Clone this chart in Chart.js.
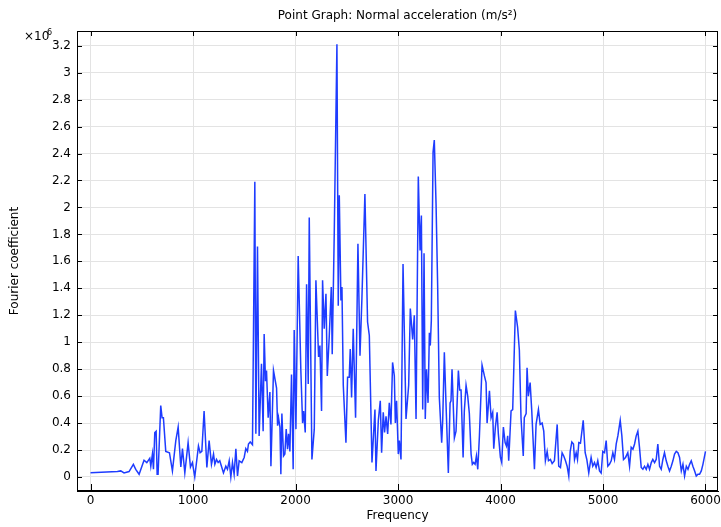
<!doctype HTML>
<html lang="en">
<head>
    <meta charset=utf-8>
    <title>Point Graph</title>
    <style type="text/css">
        * {
            padding: 0;
            margin: 0;
        }

        body {
            background: #fff;
        }

        div {
            width: 721px;
            height: 527px;
        }
    </style>
    <script src="https://cdn.jsdelivr.net/npm/chart.js"></script>
</head>
<body>
    <div>
        <canvas id="pointGraph"></canvas>
    </div>

    <script type="text/javascript">
        // frequency (Hz) and Fourier coefficient (x10^6)
        const frequency = [
            0, 262, 295, 327, 376, 418, 441, 474, 522, 549, 578, 588, 604, 614, 627, 640, 650, 659, 685, 698,
            711, 734, 770, 799, 832, 855, 881, 897, 920, 952, 975, 994, 1017, 1053, 1069, 1086, 1108, 1115, 1135, 1157,
            1180, 1200, 1213, 1229, 1245, 1261, 1281, 1297, 1320, 1336, 1353, 1369, 1385, 1401, 1418, 1434, 1450, 1476, 1499, 1515,
            1531, 1541, 1558, 1580, 1603, 1613, 1629, 1645, 1668, 1684, 1694, 1707, 1717, 1733, 1750, 1760, 1785, 1815, 1825, 1834,
            1848, 1857, 1867, 1883, 1896, 1909, 1922, 1932, 1945, 1961, 1977, 1987, 2004, 2026, 2052, 2069, 2079, 2095, 2108, 2124,
            2134, 2160, 2183, 2199, 2225, 2238, 2254, 2264, 2280, 2297, 2310, 2329, 2349, 2358, 2378, 2404, 2417, 2427, 2443, 2453,
            2466, 2492, 2508, 2524, 2534, 2547, 2563, 2586, 2609, 2629, 2648, 2677, 2703, 2720, 2746, 2775, 2785, 2808, 2827, 2840,
            2856, 2869, 2883, 2899, 2915, 2931, 2947, 2964, 2974, 2986, 3003, 3013, 3029, 3049, 3078, 3104, 3120, 3143, 3159, 3176,
            3198, 3215, 3228, 3241, 3254, 3266, 3278, 3293, 3306, 3315, 3325, 3342, 3354, 3371, 3387, 3403, 3426, 3436, 3452, 3468,
            3491, 3508, 3517, 3527, 3550, 3566, 3589, 3602, 3615, 3635, 3647, 3664, 3680, 3696, 3713, 3725, 3738, 3752, 3765, 3778,
            3794, 3820, 3843, 3859, 3869, 3892, 3908, 3924, 3934, 3950, 3967, 3979, 3999, 4012, 4028, 4045, 4058, 4070, 4080, 4103,
            4119, 4145, 4167, 4184, 4200, 4222, 4232, 4250, 4259, 4272, 4289, 4305, 4331, 4347, 4370, 4387, 4406, 4422, 4438, 4455,
            4468, 4487, 4504, 4526, 4553, 4568, 4585, 4601, 4617, 4634, 4650, 4666, 4680, 4696, 4712, 4722, 4738, 4751, 4764, 4780,
            4807, 4826, 4842, 4861, 4884, 4900, 4917, 4933, 4949, 4966, 4982, 4998, 5015, 5031, 5047, 5063, 5080, 5096, 5112, 5129,
            5145, 5168, 5184, 5200, 5220, 5242, 5259, 5275, 5292, 5308, 5324, 5340, 5356, 5373, 5389, 5405, 5422, 5438, 5454, 5471,
            5486, 5503, 5519, 5535, 5552, 5568, 5584, 5600, 5617, 5633, 5649, 5666, 5682, 5698, 5715, 5731, 5747, 5764, 5780, 5796,
            5813, 5829, 5845, 5861, 5877, 5894, 5910, 5926, 5942, 5959, 5975, 6000
        ];

        const coefficient = [
            0.032, 0.04, 0.045, 0.03, 0.04, 0.094, 0.057, 0.02, 0.124, 0.107, 0.139, 0.08, 0.17, 0.057, 0.33, 0.34, 0.02, 0.02, 0.53, 0.44,
            0.44, 0.19, 0.18, 0.045, 0.27, 0.37, 0.074, 0.21, 0.03, 0.255, 0.074, 0.107, 0.0, 0.23, 0.18, 0.19, 0.49, 0.49, 0.07, 0.27,
            0.094, 0.17, 0.094, 0.13, 0.107, 0.12, 0.07, 0.03, 0.08, 0.057, 0.12, 0.0, 0.107, 0.02, 0.21, 0.007, 0.12, 0.107, 0.145, 0.21,
            0.19, 0.245, 0.26, 0.24, 2.19, 0.32, 1.71, 0.305, 0.84, 0.34, 1.06, 0.71, 0.79, 0.44, 0.63, 0.08, 0.79, 0.66, 0.38, 0.44,
            0.37, 0.02, 0.47, 0.156, 0.17, 0.355, 0.206, 0.32, 0.19, 0.76, 0.057, 1.09, 0.355, 1.64, 0.79, 0.40, 0.49, 0.33, 1.43, 0.69,
            1.925, 0.13, 0.355, 1.46, 0.89, 0.975, 0.49, 1.46, 1.10, 1.36, 0.75, 1.04, 1.41, 0.91, 1.81, 3.21, 1.27, 2.09, 1.31, 1.41,
            0.68, 0.255, 0.74, 0.74, 0.95, 0.59, 1.10, 0.44, 1.73, 0.90, 1.33, 2.10, 1.15, 1.05, 0.107, 0.50, 0.045, 0.42, 0.565, 0.18,
            0.48, 0.33, 0.45, 0.32, 0.55, 0.39, 0.85, 0.75, 0.40, 0.565, 0.17, 0.27, 0.13, 1.58, 0.43, 0.68, 1.25, 1.02, 1.20, 0.43,
            2.23, 1.68, 1.94, 0.50, 1.66, 0.43, 0.80, 0.55, 1.07, 0.975, 1.16, 2.41, 2.50, 2.03, 1.41, 0.59, 0.255, 0.42, 0.925, 0.55,
            0.03, 0.55, 0.565, 0.80, 0.29, 0.34, 0.79, 0.645, 0.645, 0.145, 0.49, 0.68, 0.60, 0.47, 0.17, 0.094, 0.107, 0.094, 0.156, 0.057,
            0.30, 0.83, 0.75, 0.70, 0.40, 0.64, 0.44, 0.48, 0.21, 0.37, 0.48, 0.32, 0.145, 0.107, 0.37, 0.255, 0.23, 0.305, 0.12, 0.49,
            0.50, 1.235, 1.11, 0.94, 0.44, 0.156, 0.44, 0.47, 0.81, 0.60, 0.70, 0.49, 0.057, 0.39, 0.50, 0.39, 0.40, 0.34, 0.12, 0.19,
            0.12, 0.13, 0.10, 0.12, 0.39, 0.08, 0.07, 0.18, 0.156, 0.12, 0.08, 0.007, 0.19, 0.26, 0.245, 0.13, 0.18, 0.13, 0.255, 0.25,
            0.42, 0.18, 0.13, 0.03, 0.145, 0.08, 0.107, 0.07, 0.12, 0.045, 0.03, 0.19, 0.18, 0.27, 0.08, 0.094, 0.12, 0.18, 0.13, 0.245,
            0.305, 0.42, 0.305, 0.13, 0.145, 0.18, 0.08, 0.22, 0.206, 0.245, 0.305, 0.34, 0.22, 0.07, 0.057, 0.08, 0.057, 0.094, 0.057, 0.107,
            0.13, 0.107, 0.13, 0.245, 0.08, 0.057, 0.13, 0.18, 0.12, 0.08, 0.045, 0.08, 0.12, 0.17, 0.19, 0.18, 0.145, 0.045, 0.094, 0.007,
            0.08, 0.057, 0.094, 0.12, 0.08, 0.045, 0.007, 0.02, 0.02, 0.045, 0.094, 0.19
        ];

        const xTicks = [0, 1000, 2000, 3000, 4000, 5000, 6000];
        const yTicks = [0, 0.2, 0.4, 0.6, 0.8, 1, 1.2, 1.4, 1.6, 1.8, 2, 2.2, 2.4, 2.6, 2.8, 3, 3.2];

        const FONT = 'DejaVu Sans';

        // COMSOL style: closed frame, ticks pointing inwards, exponent above the y axis
        const framePlugin = {
            id: 'frame',
            afterDraw(chart) {
                const ctx = chart.ctx;
                const a = chart.chartArea;
                const xs = chart.scales.x;
                const ys = chart.scales.y;
                ctx.save();
                ctx.strokeStyle = '#000';
                ctx.lineWidth = 1;
                ctx.strokeRect(Math.round(a.left) + 0.5, Math.round(a.top) + 0.5,
                    Math.round(a.right - a.left) - 1, Math.round(a.bottom - a.top) - 1);
                ctx.beginPath();
                xTicks.forEach(v => {
                    const px = Math.round(xs.getPixelForValue(v)) + 0.5;
                    ctx.moveTo(px, a.bottom);
                    ctx.lineTo(px, a.bottom - 7);
                    ctx.moveTo(px, a.top);
                    ctx.lineTo(px, a.top + 5);
                });
                yTicks.forEach(v => {
                    const py = Math.round(ys.getPixelForValue(v)) + 0.5;
                    ctx.moveTo(a.left, py);
                    ctx.lineTo(a.left + 5, py);
                    ctx.moveTo(a.right, py);
                    ctx.lineTo(a.right - 5, py);
                });
                ctx.stroke();

                ctx.fillStyle = '#000';
                ctx.textBaseline = 'alphabetic';
                ctx.textAlign = 'left';
                ctx.font = '12px ' + FONT;
                ctx.fillText('×10', 24, 40);
                ctx.font = '8px ' + FONT;
                ctx.fillText('6', 47, 35);
                ctx.restore();
            }
        };

        const config = {
            type: 'line',
            data: {
                datasets: [{
                    label: 'Fourier coefficient',
                    data: frequency.map((f, i) => ({ x: f, y: coefficient[i] })),
                    borderColor: '#1e3cff',
                    borderWidth: 1.5,
                    pointRadius: 0,
                    tension: 0,
                    fill: false
                }]
            },
            options: {
                responsive: false,
                animation: false,
                layout: { padding: { left: 0, right: 3, top: 0, bottom: 0 } },
                plugins: {
                    legend: { display: false },
                    tooltip: { enabled: false },
                    title: {
                        display: true,
                        fullSize: false,
                        text: 'Point Graph: Normal acceleration (m/s²)',
                        color: '#000',
                        font: { family: FONT, size: 12, weight: 'normal' },
                        padding: { top: 9, bottom: 7.6 }
                    }
                },
                scales: {
                    x: {
                        type: 'linear',
                        min: -132,
                        max: 6122,
                        afterBuildTicks: s => { s.ticks = xTicks.map(v => ({ value: v })); },
                        afterFit: s => { s.height = 36; s.paddingRight = 0; s.paddingLeft = 0; },
                        ticks: {
                            color: '#000',
                            font: { family: FONT, size: 12 },
                            padding: 3,
                            maxRotation: 0,
                            callback: v => String(v)
                        },
                        grid: { color: '#e3e3e3', drawTicks: false },
                        border: { display: true, color: '#000' },
                        title: {
                            display: true,
                            text: 'Frequency',
                            color: '#000',
                            font: { family: FONT, size: 12 },
                            padding: { top: 0, bottom: 4 }
                        }
                    },
                    y: {
                        type: 'linear',
                        min: -0.104,
                        max: 3.309,
                        afterBuildTicks: s => { s.ticks = yTicks.map(v => ({ value: v })); },
                        afterFit: s => { s.width = 77; },
                        ticks: {
                            color: '#000',
                            font: { family: FONT, size: 12 },
                            padding: 6,
                            callback: v => String(+v.toFixed(1))
                        },
                        grid: { color: '#e3e3e3', drawTicks: false },
                        border: { display: true, color: '#000' },
                        title: {
                            display: true,
                            text: 'Fourier coefficient',
                            color: '#000',
                            font: { family: FONT, size: 12 },
                            padding: { top: 8, bottom: 0 }
                        }
                    }
                }
            },
            plugins: [framePlugin]
        };

        const canvas = document.getElementById('pointGraph');
        canvas.width = 721;
        canvas.height = 527;
        const chart = new Chart(canvas, config);
    </script>
</body>
</html>
